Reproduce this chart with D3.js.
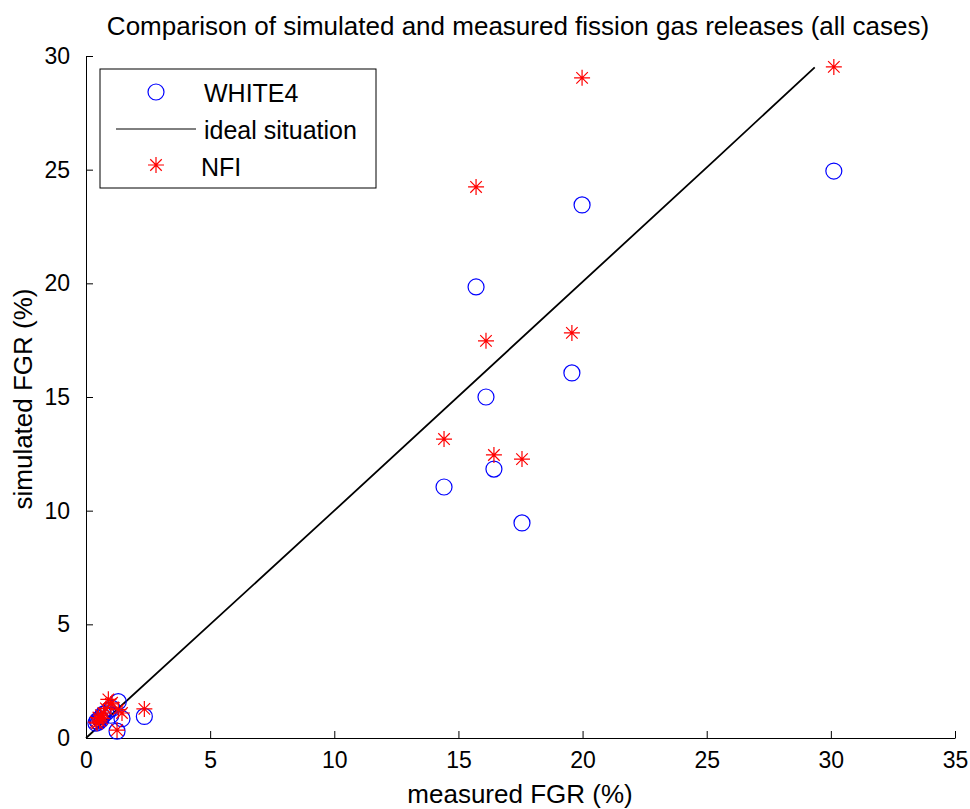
<html>
<head>
  <style type="text/css">
    body { margin: 0; background: #fff; }
    text { font-family: "Liberation Sans", Arial, sans-serif; }
  </style>
</head>
<body>
  <div id="viz"></div>
  <script src="https://cdnjs.cloudflare.com/ajax/libs/d3/7.8.5/d3.min.js"></script>
  <script>
  // measured FGR (%) for each case, shared by both codes
  const measured = [0.4, 0.45, 0.5, 0.55, 0.6, 0.65, 0.7, 0.8, 0.9, 1.0, 1.05, 1.25, 1.3, 1.45, 2.35,
                    14.42, 15.71, 16.11, 16.43, 17.56, 19.57, 19.98, 30.12];
  const white4 = [0.65, 0.75, 0.7, 0.85, 0.8, 0.95, 1.05, 1.1, 1.2, 1.0, 1.3, 0.3, 1.6, 0.85, 0.95,
                  11.04, 19.84, 15.0, 11.83, 9.46, 16.06, 23.45, 24.94];
  const nfi = [0.7, 0.65, 0.9, 0.75, 1.0, 0.85, 1.1, 1.3, 1.7, 1.5, 1.55, 0.35, 1.25, 1.1, 1.28,
               13.15, 24.24, 17.47, 12.45, 12.27, 17.82, 29.04, 29.52];
  // ideal line (y = x)
  const idealX = [0, 10, 25.3, 29.35];
  const idealY = [0, 10, 25.4, 29.5];

  const xTicks = [0, 5, 10, 15, 20, 25, 30, 35];
  const yTicks = [0, 5, 10, 15, 20, 25, 30];

  const width = 970, height = 809;
  const margin = { top: 56, right: 15, bottom: 71, left: 86 };

  const svg = d3.select('#viz').append('svg')
    .attr('width', width)
    .attr('height', height);

  const x = d3.scaleLinear().domain([0, 35]).range([margin.left, width - margin.right]);
  const y = d3.scaleLinear().domain([0, 30]).range([height - margin.bottom, margin.top]);

  // axes, ticks pointing inward
  const xAxis = d3.axisBottom(x).tickValues(xTicks).tickSizeInner(-7).tickSizeOuter(0).tickPadding(14);
  const yAxis = d3.axisLeft(y).tickValues(yTicks).tickSizeInner(-7).tickSizeOuter(0).tickPadding(16);

  const gx = svg.append('g')
    .attr('transform', 'translate(0,' + y(0) + ')')
    .call(xAxis);
  const gy = svg.append('g')
    .attr('transform', 'translate(' + x(0) + ',0)')
    .call(yAxis);

  [gx, gy].forEach(g => {
    g.selectAll('path, line').attr('stroke', '#000').attr('stroke-width', 1);
    g.selectAll('text').attr('font-size', 23).attr('fill', '#000')
      .attr('font-family', '"Liberation Sans", Arial, sans-serif');
  });

  // ideal line
  const line = d3.line().x((d, i) => x(idealX[i])).y((d, i) => y(idealY[i]));
  svg.append('path')
    .datum(idealX)
    .attr('d', line)
    .attr('fill', 'none')
    .attr('stroke', '#000')
    .attr('stroke-width', 1.8);

  // asterisk marker
  const star = (cx, cy, r) => {
    const d = r * 0.72;
    return 'M' + (cx - r) + ',' + cy + 'H' + (cx + r) +
      'M' + cx + ',' + (cy - r) + 'V' + (cy + r) +
      'M' + (cx - d) + ',' + (cy - d) + 'L' + (cx + d) + ',' + (cy + d) +
      'M' + (cx - d) + ',' + (cy + d) + 'L' + (cx + d) + ',' + (cy - d);
  };

  svg.append('g').selectAll('circle')
    .data(measured)
    .enter().append('circle')
      .attr('cx', d => x(d))
      .attr('cy', (d, i) => y(white4[i]))
      .attr('r', 8)
      .attr('fill', 'none')
      .attr('stroke', '#0000ff')
      .attr('stroke-width', 1.2);

  svg.append('g').selectAll('path')
    .data(measured)
    .enter().append('path')
      .attr('d', (d, i) => star(x(d), y(nfi[i]), 8))
      .attr('stroke', '#ff0000')
      .attr('stroke-width', 1.2);

  // title and labels
  svg.append('text')
    .attr('x', 518).attr('y', 35)
    .attr('text-anchor', 'middle')
    .attr('font-size', 26)
    .text('Comparison of simulated and measured fission gas releases (all cases)');

  svg.append('text')
    .attr('x', 520).attr('y', 803)
    .attr('text-anchor', 'middle')
    .attr('font-size', 26)
    .text('measured FGR (%)');

  svg.append('text')
    .attr('transform', 'translate(32,' + 399 + ') rotate(-90)')
    .attr('text-anchor', 'middle')
    .attr('font-size', 26)
    .text('simulated FGR (%)');

  // legend
  const lg = svg.append('g');
  lg.append('rect')
    .attr('x', 100).attr('y', 69)
    .attr('width', 276).attr('height', 119)
    .attr('fill', '#fff')
    .attr('stroke', '#000')
    .attr('stroke-width', 1);
  lg.append('circle')
    .attr('cx', 156).attr('cy', 92).attr('r', 8)
    .attr('fill', 'none').attr('stroke', '#0000ff').attr('stroke-width', 1.2);
  lg.append('line')
    .attr('x1', 116).attr('x2', 196).attr('y1', 129).attr('y2', 129)
    .attr('stroke', '#000').attr('stroke-width', 1);
  lg.append('path')
    .attr('d', star(156, 165, 8))
    .attr('stroke', '#ff0000').attr('stroke-width', 1.2);
  const legendText = ['WHITE4', 'ideal situation', 'NFI'];
  lg.selectAll('text.lt')
    .data(legendText)
    .enter().append('text')
      .attr('class', 'lt')
      .attr('x', (d, i) => i === 2 ? 201 : 204)
      .attr('y', (d, i) => [102, 139, 176][i])
      .attr('font-size', 25)
      .text(d => d);
  </script>
</body>
</html>
